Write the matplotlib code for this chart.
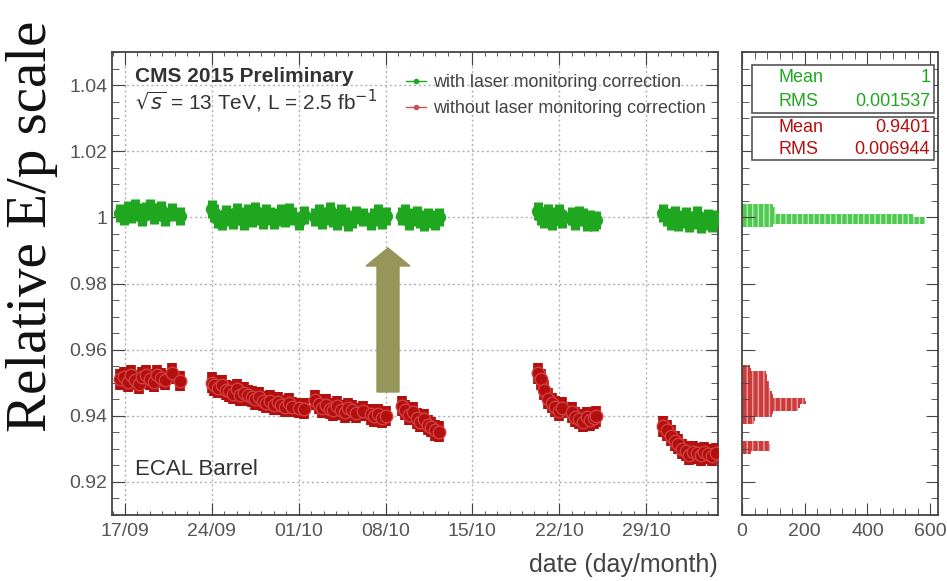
import numpy as np
import matplotlib
matplotlib.use("Agg")
import matplotlib.pyplot as plt
from matplotlib.lines import Line2D
from matplotlib.patches import FancyArrow, Rectangle
from matplotlib.ticker import MultipleLocator

plt.rcParams['font.family'] = ['Liberation Sans', 'DejaVu Sans']

# run times in days since 17/09, shared by both series
days = [-0.4, -0.1, 0.2, 0.5, 0.8, 1.1, 1.4, 1.7, 2.0, 2.3, 2.6, 2.9, 3.2, 3.8, 4.4,
        7.0, 7.2, 7.5, 7.8, 8.1, 8.4, 8.7, 9.0, 9.3, 9.6, 9.9, 10.2, 10.5, 10.8, 11.1,
        11.4, 11.7, 12.0, 12.3, 12.6, 12.9, 13.2, 13.5, 14.0, 14.4,
        15.3, 15.6, 15.9, 16.2, 16.5, 16.8, 17.1, 17.4, 17.7, 18.0, 18.3, 18.6, 19.2,
        19.8, 20.1, 20.4, 20.7, 21.0,
        22.3, 22.6, 22.9, 23.2, 23.5, 23.8, 24.1, 24.4, 24.7, 25.0, 25.3,
        33.3, 33.5, 33.8, 34.1, 34.4, 34.7, 35.0, 35.2,
        36.0, 36.3, 36.6, 36.9, 37.2, 37.5, 37.8, 38.0,
        43.4, 43.7, 44.0, 44.3, 44.6, 44.9, 45.2, 45.5, 45.8, 46.1, 46.4, 46.7, 47.0,
        47.3, 47.6]

ep_with = [1.0012, 1.0005, 1.0022, 1.0010, 1.0028, 1.0015, 1.0002, 1.0018, 1.0030, 1.0008,
           1.0015, 1.0022, 1.0002, 1.0015, 1.0005,
           1.0025, 1.0012, 0.9995, 0.9988, 1.0010, 1.0000, 0.9992, 1.0015, 1.0005, 0.9990,
           1.0012, 0.9998, 1.0018, 1.0003, 0.9992, 1.0012, 1.0005, 0.9992, 1.0000, 1.0012,
           0.9998, 1.0015, 1.0003, 0.9990, 1.0006,
           1.0000, 1.0012, 0.9992, 1.0005, 1.0018, 0.9998, 0.9988, 1.0012, 1.0003, 0.9985,
           0.9995, 1.0008, 1.0000, 0.9990, 1.0002, 1.0012, 0.9992, 1.0003,
           1.0005, 1.0012, 0.9990, 1.0000, 1.0008, 0.9994, 0.9986, 1.0002, 0.9995, 0.9988,
           1.0000,
           1.0020, 1.0005, 0.9995, 1.0012, 0.9990, 1.0003, 1.0012, 0.9994,
           1.0005, 0.9990, 1.0008, 1.0000, 0.9986, 0.9995, 0.9985, 0.9992,
           1.0012, 1.0002, 0.9990, 1.0008, 0.9985, 0.9996, 1.0004, 0.9982, 0.9992, 1.0008,
           0.9980, 0.9990, 0.9998, 0.9984, 0.9994]

ep_without = [0.9510, 0.9518, 0.9502, 0.9522, 0.9508, 0.9496, 0.9516, 0.9522, 0.9510, 0.9502,
              0.9522, 0.9515, 0.9508, 0.9528, 0.9505,
              0.9500, 0.9492, 0.9484, 0.9492, 0.9478, 0.9474, 0.9466, 0.9480, 0.9462, 0.9470,
              0.9462, 0.9458, 0.9450, 0.9456, 0.9445, 0.9438, 0.9446, 0.9434, 0.9442, 0.9432,
              0.9428, 0.9438, 0.9426, 0.9424, 0.9422,
              0.9448, 0.9435, 0.9424, 0.9434, 0.9422, 0.9416, 0.9430, 0.9418, 0.9410, 0.9424,
              0.9416, 0.9408, 0.9415, 0.9404, 0.9398, 0.9406, 0.9394, 0.9400,
              0.9430, 0.9418, 0.9402, 0.9410, 0.9392, 0.9382, 0.9390, 0.9372, 0.9366, 0.9356,
              0.9352,
              0.9528, 0.9510, 0.9478, 0.9452, 0.9438, 0.9428, 0.9414, 0.9425,
              0.9410, 0.9396, 0.9390, 0.9382, 0.9396, 0.9386, 0.9392, 0.9398,
              0.9368, 0.9356, 0.9340, 0.9324, 0.9314, 0.9300, 0.9294, 0.9282, 0.9292, 0.9286,
              0.9280, 0.9290, 0.9284, 0.9278, 0.9288]

err_with = 0.0027
err_without = 0.0031

date_ticks = [0, 7, 14, 21, 28, 35, 42]
date_labels = ['17/09', '24/09', '01/10', '08/10', '15/10', '22/10', '29/10']

# projected distributions (bin centres and entries)
hist_bins_with = [1.0035, 1.0025, 1.0015, 1.0005, 0.9995, 0.9985, 0.9975]
hist_counts_with = [100, 105, 105, 545, 585, 585, 100]
hist_bins_without = [0.955, 0.954, 0.953, 0.952, 0.951, 0.950, 0.949, 0.948, 0.947, 0.946,
                     0.945, 0.944, 0.943, 0.942, 0.941, 0.940, 0.939, 0.938,
                     0.932, 0.931, 0.930, 0.929]
hist_counts_without = [25, 30, 75, 80, 80, 85, 85, 90, 95, 100,
                       200, 205, 185, 180, 100, 95, 40, 38,
                       85, 88, 90, 30]

stats_with = ('1', '0.001537')
stats_without = ('0.9401', '0.006944')

green = '#1fa71f'
red = '#b40f0f'
grey_txt = '#555555'
frame = '#444444'

W, H = 947, 581
fig = plt.figure(figsize=(W / 100, H / 100), dpi=100)
ax = fig.add_axes([112 / W, 1 - 515 / H, 606 / W, 463 / H])
axh = fig.add_axes([742 / W, 1 - 515 / H, 196 / W, 463 / H])

for a in (ax, axh):
    for s in a.spines.values():
        s.set_color(frame)
        s.set_linewidth(1.3)
    a.tick_params(which='both', direction='in', top=True, right=True, color=frame,
                  labelcolor=grey_txt, labelsize=14)
    a.tick_params(which='major', length=9)
    a.tick_params(which='minor', length=5)
    a.set_ylim(0.91, 1.05)
    a.yaxis.set_major_locator(MultipleLocator(0.02))
    a.yaxis.set_minor_locator(MultipleLocator(0.005))

# time series
ax.errorbar(days, ep_with, yerr=err_with, fmt='o', ms=8.5, color=green, mec=green,
            ecolor=green, elinewidth=6.5, capsize=0, zorder=3)
ax.errorbar(days, ep_without, yerr=err_without, fmt='o', ms=9, color=red, mec='#d04040',
            mew=1, ecolor=red, elinewidth=7, capsize=0, zorder=3)

ax.set_xlim(-1.05, 47.8)
ax.set_xticks(date_ticks)
ax.set_xticklabels(date_labels)
ax.xaxis.set_minor_locator(MultipleLocator(1))
ax.tick_params(axis='x', which='minor', length=3)
ax.tick_params(axis='x', pad=6)
ax.yaxis.set_major_formatter(plt.FuncFormatter(lambda v, p: f'{v:.2f}'.rstrip('0').rstrip('.')))
ax.grid(True, which='major', color='#b0b0b0', linestyle=(0, (1.5, 2)), linewidth=1)
ax.set_axisbelow(True)

ax.text(0.038, 0.948, 'CMS 2015 Preliminary', transform=ax.transAxes, fontsize=15,
        fontweight='bold', color='#333333', va='center')
ax.text(0.038, 0.893, r'$\sqrt{s}$ = 13 TeV, L = 2.5 fb$^{-1}$', transform=ax.transAxes,
        fontsize=15, color='#333333', va='center')
ax.text(0.038, 0.098, 'ECAL Barrel', transform=ax.transAxes, fontsize=16,
        color='#333333', va='center')

handles = [Line2D([], [], color=green, marker='o', ms=3, lw=1),
           Line2D([], [], color='#d05050', marker='o', ms=3, lw=1)]
ax.legend(handles, ['with laser monitoring correction', 'without laser monitoring correction'],
          loc='upper left', bbox_to_anchor=(0.48, 0.96), frameon=False, fontsize=12.9,
          handlelength=1.1, handletextpad=0.4, labelspacing=0.5, labelcolor='#444444',
          borderaxespad=0, borderpad=0.2)

fig.text(718 / W, 1 - 565 / H, 'date (day/month)', ha='right', va='center',
         fontsize=18, color='#444444')

# projection histograms
axh.barh(hist_bins_with, hist_counts_with, height=0.001, color='#4fc94f',
         edgecolor='#b8ecb8', hatch='|||', linewidth=0)
axh.barh(hist_bins_without, hist_counts_without, height=0.001, color='#cc3c3c',
         edgecolor='#eaa0a0', hatch='|||', linewidth=0)
axh.set_xlim(0, 625)
axh.set_xticks([0, 200, 400, 600])
axh.xaxis.set_minor_locator(MultipleLocator(40))
axh.tick_params(axis='y', labelleft=False)
axh.tick_params(axis='x', pad=6)

for (mean, rms), col, y0, h in ((stats_with, green, 0.868, 0.104),
                                (stats_without, red, 0.767, 0.093)):
    axh.add_patch(Rectangle((0.05, y0), 0.93, h, transform=axh.transAxes,
                            facecolor='white', edgecolor='#555555', lw=1.2, zorder=5))
    axh.text(0.185, y0 + 0.75 * h, 'Mean', transform=axh.transAxes, color=col,
             fontsize=13, va='center', zorder=6)
    axh.text(0.96, y0 + 0.75 * h, mean, transform=axh.transAxes, color=col,
             fontsize=13, va='center', ha='right', zorder=6)
    axh.text(0.185, y0 + 0.25 * h, 'RMS', transform=axh.transAxes, color=col,
             fontsize=13, va='center', zorder=6)
    axh.text(0.96, y0 + 0.25 * h, rms, transform=axh.transAxes, color=col,
             fontsize=13, va='center', ha='right', zorder=6)

# arrow showing the effect of the correction
arrow = FancyArrow(388 / W, 1 - 392 / H, 0, (392 - 248) / H, width=22 / W,
                   head_width=44 / W, head_length=18 / H, length_includes_head=True,
                   transform=fig.transFigure, color='#96965a', zorder=10)
fig.patches.append(arrow)

fig.text(32 / W, 1 - 226 / H, 'Relative E/p scale', rotation=90, ha='center', va='center',
         fontsize=41, family='Liberation Serif', color='#111111')

fig.savefig('out.png', dpi=100)
